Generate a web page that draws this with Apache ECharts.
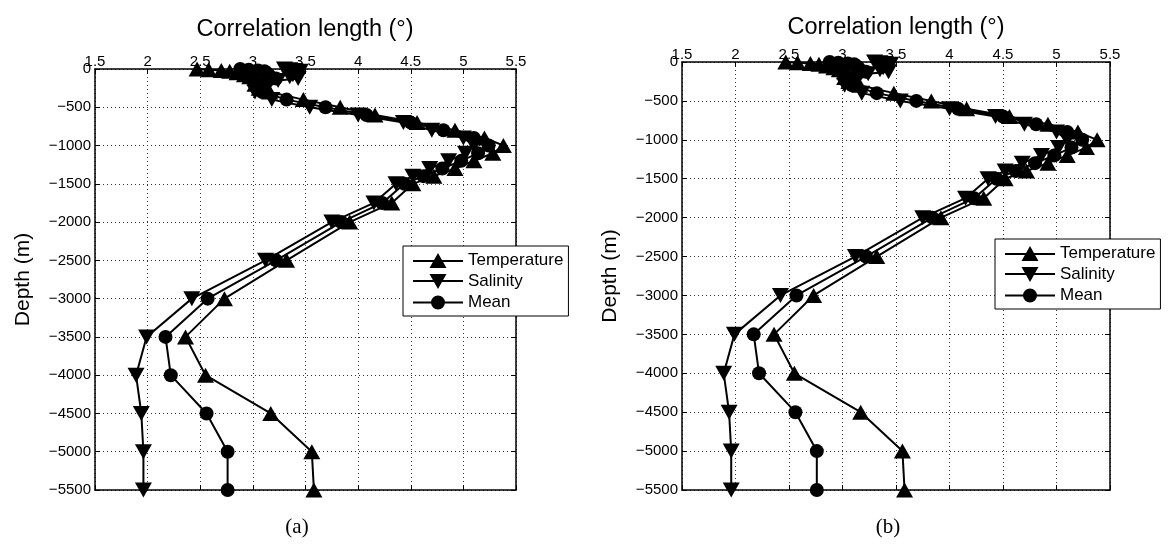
<!DOCTYPE html>
<html><head><meta charset="utf-8">
<script src="https://cdn.jsdelivr.net/npm/echarts@6/dist/echarts.min.js"></script>
<style>html,body{margin:0;padding:0;background:#fff}#c{width:1170px;height:554px}</style>
</head><body><div id="c"></div>
<script>
var depths = [0,-10,-20,-30,-50,-75,-100,-125,-150,-200,-250,-300,-400,-500,-600,-700,-800,-900,-1000,-1100,-1200,-1300,-1400,-1500,-1750,-2000,-2500,-3000,-3500,-4000,-4500,-5000,-5500];
var temperature = [2.47,2.58,2.70,2.78,2.85,2.92,2.97,3.02,3.05,3.02,3.06,3.16,3.48,3.83,4.16,4.56,4.92,5.20,5.38,5.28,5.10,4.92,4.72,4.52,4.32,3.92,3.32,2.73,2.36,2.55,3.17,3.56,3.58];
var salinity    = [3.30,3.35,3.40,3.45,3.42,3.38,3.35,3.43,3.24,3.15,3.06,3.02,3.18,3.54,4.00,4.43,4.70,5.00,5.10,5.02,4.86,4.68,4.52,4.36,4.15,3.75,3.12,2.42,1.99,1.89,1.94,1.96,1.96];
var meanVals    = [2.88,2.96,3.05,3.11,3.13,3.15,3.16,3.22,3.14,3.08,3.06,3.09,3.32,3.69,4.08,4.50,4.81,5.10,5.24,5.14,4.98,4.80,4.62,4.44,4.23,3.84,3.22,2.57,2.17,2.22,2.56,2.76,2.76];
var xTicks = [1.5,2,2.5,3,3.5,4,4.5,5,5.5];
var yTicks = [0,-500,-1000,-1500,-2000,-2500,-3000,-3500,-4000,-4500,-5000,-5500];
var seriesNames = ['Temperature','Salinity','Mean'];
var xTitle = 'Correlation length (°)';
var yTitle = 'Depth (m)';
var panelLabels = ['(a)','(b)'];

var FONT = '"Liberation Sans", Arial, Helvetica, sans-serif';
var chart = echarts.init(document.getElementById('c'), null, {renderer:'canvas'});
var grids = [
  {left:95, top:69, width:421, height:421},
  {left:682, top:62, width:428, height:428}
];
function pairs(vals){ return vals.map(function(v,i){ return [v, depths[i]]; }); }
var LINE = 'M0,7 L50,7 L50,9 L0,9 Z ';
var icons = [
  'path://' + LINE + 'M25,0 L33.5,15 L16.5,15 Z',
  'path://' + LINE + 'M16.5,1 L33.5,1 L25,16 Z',
  'path://' + LINE + 'M32,8 A7,7 0 1,1 18,8 A7,7 0 1,1 32,8 Z'
];
var xAxes=[], yAxes=[], series=[], legends=[], graphics=[];
var legendPos = [{left:403, top:246},{left:995, top:239}];
var titleX = [305, 896], titleY=[30, 28], labelX=[297, 888], yTitleX=[23, 610];
grids.forEach(function(g, gi){
  var gridLine = {show:true, lineStyle:{color:'#333', type:[1,3], width:1}};
  xAxes.push({gridIndex:gi, type:'value', position:'top', min:1.5, max:5.5, interval:0.5,
    axisLine:{show:true, onZero:false, lineStyle:{color:'#000', width:1.5}},
    axisTick:{show:true, inside:true, length:5, lineStyle:{color:'#000'}},
    axisLabel:{show:true, margin:0, color:'#000', fontSize:15, fontFamily:FONT,
      formatter:function(v){ return xTicks.indexOf(v)>=0 ? String(v) : ''; }},
    splitLine:gridLine});
  xAxes.push({gridIndex:gi, type:'value', position:'bottom', min:1.5, max:5.5, interval:0.5,
    axisLine:{show:true, onZero:false, lineStyle:{color:'#000', width:1.5}},
    axisTick:{show:true, inside:true, length:5, lineStyle:{color:'#000'}},
    axisLabel:{show:false}, splitLine:{show:false}});
  yAxes.push({gridIndex:gi, type:'value', position:'left', min:-5500, max:0, interval:500,
    axisLine:{show:true, onZero:false, lineStyle:{color:'#000', width:1.5}},
    axisTick:{show:true, inside:true, length:5, lineStyle:{color:'#000'}},
    axisLabel:{show:true, margin:4, color:'#000', fontSize:15, fontFamily:FONT,
      formatter:function(v){ return yTicks.indexOf(v)>=0 ? (v<0 ? '\u2212'+(-v) : String(v)) : ''; }},
    splitLine:gridLine});
  yAxes.push({gridIndex:gi, type:'value', position:'right', min:-5500, max:0, interval:500,
    axisLine:{show:true, onZero:false, lineStyle:{color:'#000', width:1.5}},
    axisTick:{show:true, inside:true, length:5, lineStyle:{color:'#000'}},
    axisLabel:{show:false}, splitLine:{show:false}});
  var defs = [
    {name:seriesNames[0], data:temperature, symbol:'triangle', size:[17,15], rot:0},
    {name:seriesNames[1], data:salinity, symbol:'triangle', size:[17,15], rot:180},
    {name:seriesNames[2], data:meanVals, symbol:'circle', size:14, rot:0}
  ];
  defs.forEach(function(d){
    series.push({type:'line', name:d.name, xAxisIndex:gi*2, yAxisIndex:gi*2,
      data:pairs(d.data), symbol:d.symbol, symbolSize:d.size, symbolRotate:d.rot,
      showAllSymbol:true, clip:false, animation:false, z:3,
      lineStyle:{color:'#000', width:2}, itemStyle:{color:'#000', borderColor:'#000', borderWidth:0}});
  });
  legends.push({orient:'vertical', left:legendPos[gi].left, top:legendPos[gi].top,
    data:seriesNames.map(function(n,i){ return {name:n, icon:icons[i]}; }),
    itemWidth:50, itemHeight:16, itemGap:4, padding:[6,5,5,10],
    backgroundColor:'#fff', borderColor:'#000', borderWidth:1, borderRadius:0,
    selectedMode:false, textStyle:{color:'#000', fontSize:17, fontFamily:FONT}});
  graphics.push({type:'text', x:titleX[gi], y:titleY[gi], style:{text:xTitle, fill:'#000', font:'23.5px '+FONT, textAlign:'center', textVerticalAlign:'middle'}});
  graphics.push({type:'text', x:yTitleX[gi], y:(g.top+g.height/2), rotation:Math.PI/2, style:{text:yTitle, fill:'#000', font:'21px '+FONT, textAlign:'center', textVerticalAlign:'middle'}});
  graphics.push({type:'text', x:labelX[gi], y:527, style:{text:panelLabels[gi], fill:'#000', font:'21px "Liberation Serif", "DejaVu Serif", serif', textAlign:'center', textVerticalAlign:'middle'}});
});
chart.setOption({animation:false, backgroundColor:'#fff', grid:grids, xAxis:xAxes, yAxis:yAxes, series:series, legend:legends, graphic:graphics});
</script></body></html>
